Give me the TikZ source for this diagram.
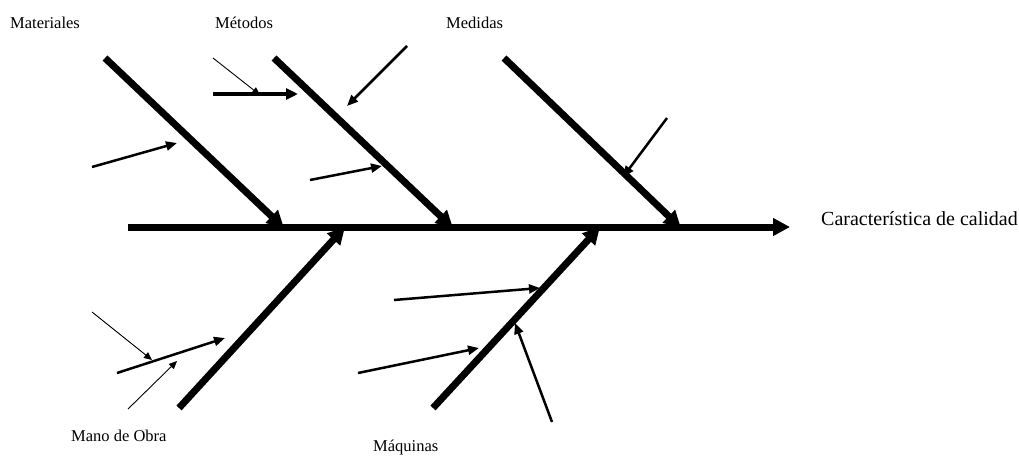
\documentclass[tikz,border=0pt]{standalone}
\usepackage{fontspec}
\setmainfont{Liberation Serif}
\usetikzlibrary{arrows.meta}
\begin{document}
\begin{tikzpicture}[x=1pt,y=-1pt,
  spine/.style={line width=7pt,-{Triangle[length=17pt,width=17pt]}},
  bone/.style={line width=7pt,-{Triangle[length=17pt,width=17pt]}},
  cause/.style={line width=2.5pt,-{Triangle[length=11pt,width=9pt]}},
  thickcause/.style={line width=4pt,-{Triangle[length=12pt,width=11pt]}},
  subcause/.style={line width=0.9pt,-{Triangle[length=8pt,width=7pt]}},
  small/.style={font=\fontsize{16.5}{20}\selectfont,inner sep=0pt,anchor=base west},
  big/.style={font=\fontsize{20}{24}\selectfont,inner sep=0pt,anchor=base west}]
\useasboundingbox (0,0) rectangle (1019,455);

% labels
\node[small] (mat) at (10,28) {Materiales};
\node[small] (met) at (215,28) {Métodos};
\node[small] (med) at (446,28) {Medidas};
\node[small] (mo)  at (71,441) {Mano de Obra};
\node[small] (maq) at (373,451) {Máquinas};
\node[big]   (car) at (821,225) {Característica de calidad};

% spine
\coordinate (s0) at (128,227);
\coordinate (s1) at (790,227);
\draw[spine] (s0) -- (s1);

% bones
\coordinate (bmat0) at (105,58);  \coordinate (bmat1) at (284,228);
\coordinate (bmet0) at (274,58);  \coordinate (bmet1) at (453,228);
\coordinate (bmed0) at (504,58);  \coordinate (bmed1) at (681,228);
\coordinate (bmo0)  at (179,408); \coordinate (bmo1)  at (345,227);
\coordinate (bmaq0) at (433,408); \coordinate (bmaq1) at (600,227);
\draw[bone] (bmat0) -- (bmat1);
\draw[bone] (bmet0) -- (bmet1);
\draw[bone] (bmed0) -- (bmed1);
\draw[bone] (bmo0) -- (bmo1);
\draw[bone] (bmaq0) -- (bmaq1);

% causes on Materiales
\coordinate (c1a) at (92,167);  \coordinate (c1b) at (177,143);
\draw[cause] (c1a) -- (c1b);

% causes on Métodos
\coordinate (c2a) at (213,94);  \coordinate (c2b) at (298,94);
\draw[thickcause] (c2a) -- (c2b);
\coordinate (c2sa) at (213,58); \coordinate (c2sb) at (260,95);
\draw[subcause] (c2sa) -- (c2sb);
\coordinate (c3a) at (407,46);  \coordinate (c3b) at (347,106);
\draw[cause] (c3a) -- (c3b);
\coordinate (c4a) at (310,180); \coordinate (c4b) at (382,166);
\draw[cause] (c4a) -- (c4b);

% cause on Medidas
\coordinate (c5a) at (667,118); \coordinate (c5b) at (623,177);
\draw[cause] (c5a) -- (c5b);

% causes on Mano de Obra
\coordinate (c6a) at (117,373); \coordinate (c6b) at (225,338);
\draw[cause] (c6a) -- (c6b);
\coordinate (c6sa) at (92,312);  \coordinate (c6sb) at (152,360);
\draw[subcause] (c6sa) -- (c6sb);
\coordinate (c6ta) at (128,409); \coordinate (c6tb) at (177,361);
\draw[subcause] (c6ta) -- (c6tb);

% causes on Máquinas
\coordinate (c7a) at (394,300); \coordinate (c7b) at (540,288);
\draw[cause] (c7a) -- (c7b);
\coordinate (c8a) at (358,373); \coordinate (c8b) at (479,348);
\draw[cause] (c8a) -- (c8b);
\coordinate (c9a) at (552,422); \coordinate (c9b) at (515,323);
\draw[cause] (c9a) -- (c9b);
\end{tikzpicture}
\end{document}
